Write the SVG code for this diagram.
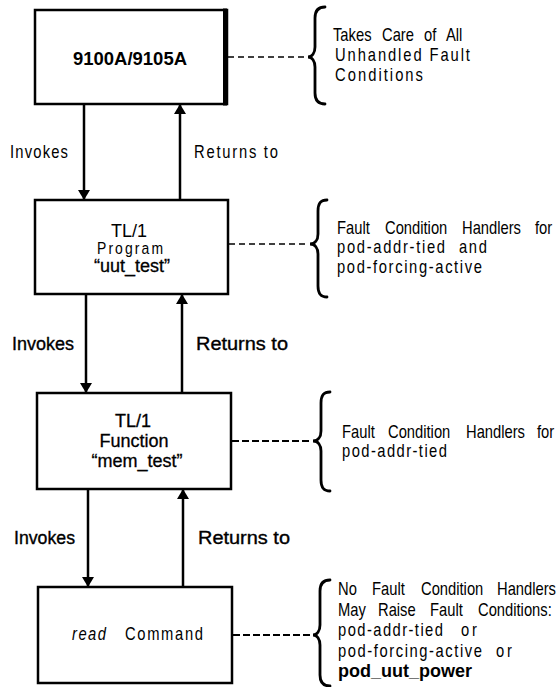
<svg xmlns="http://www.w3.org/2000/svg" width="560" height="687" viewBox="0 0 560 687">
<defs>
<marker id="ah" viewBox="0 0 10 12" refX="10" refY="6" markerWidth="10" markerHeight="12" markerUnits="userSpaceOnUse" orient="auto">
<path d="M0,0 L10,6 L0,12 Z" fill="#000"/>
</marker>
<style>
.box{fill:#fff;stroke:#000;stroke-width:2.5}
.t{font-family:"Liberation Sans",Arial,sans-serif;fill:#000}
.bt{font-size:18px;text-anchor:middle}
.an{font-size:18px}
.lb2{font-size:18px;stroke:#000;stroke-width:0.35}
.arr{stroke:#000;stroke-width:2.5;fill:none;marker-end:url(#ah)}
.brace{fill:none;stroke:#000;stroke-width:2.8;stroke-linecap:round}
.dash1{stroke:#000;stroke-width:1.3;stroke-dasharray:6 4}
.dash2{stroke:#000;stroke-width:2;stroke-dasharray:7 3}
</style>
</defs>

<g id="connectors">
<line class="arr" x1="84" y1="104" x2="84" y2="200"/>
<line class="arr" x1="180" y1="200" x2="180" y2="104"/>
<line class="arr" x1="86" y1="294" x2="86" y2="393"/>
<line class="arr" x1="182" y1="393" x2="182" y2="294"/>
<line class="arr" x1="88" y1="489" x2="88" y2="587"/>
<line class="arr" x1="183" y1="587" x2="183" y2="489"/>
<line class="dash1" x1="228" y1="57" x2="307" y2="57"/>
<line class="dash1" x1="229" y1="244" x2="309" y2="244"/>
<line class="dash2" x1="232" y1="441" x2="312" y2="441"/>
<line class="dash2" x1="233" y1="635" x2="312" y2="635"/>
<text class="t an" transform="matrix(0.82 0 0 1 10 158)" textLength="70.7" lengthAdjust="spacing">Invokes</text>
<text class="t an" transform="matrix(0.82 0 0 1 194 158)" textLength="102.4" lengthAdjust="spacing">Returns to</text>
<text class="t lb2" x="12" y="350" textLength="62" lengthAdjust="spacingAndGlyphs">Invokes</text>
<text class="t lb2" x="196" y="350" textLength="92" lengthAdjust="spacingAndGlyphs">Returns to</text>
<text class="t lb2" x="14" y="544" textLength="61" lengthAdjust="spacingAndGlyphs">Invokes</text>
<text class="t lb2" x="198" y="544" textLength="92" lengthAdjust="spacingAndGlyphs">Returns to</text>
</g>

<g id="n1">
<rect class="box" x="35" y="10" width="192" height="94"/>
<line x1="225" y1="8.5" x2="225" y2="105.5" stroke="#000" stroke-width="4"/>
<text class="t bt" x="130" y="65" font-weight="bold" textLength="114" lengthAdjust="spacingAndGlyphs">9100A/9105A</text>
</g>

<g id="n2">
<rect class="box" x="35" y="200" width="193" height="94"/>
<text class="t bt" x="129" y="237">TL/1</text>
<text class="t" transform="matrix(0.82 0 0 1 97 254)" font-size="17" textLength="80.5" lengthAdjust="spacing">Program</text>
<text class="t bt" x="132" y="272" stroke="#000" stroke-width="0.3">“uut_test”</text>
</g>

<g id="n3">
<rect class="box" x="37" y="393" width="194" height="96" stroke-width="3.5"/>
<text class="t bt" x="133" y="427" stroke="#000" stroke-width="0.3">TL/1</text>
<text class="t bt" x="134" y="447" stroke="#000" stroke-width="0.3">Function</text>
<text class="t bt" x="137" y="467" stroke="#000" stroke-width="0.3">“mem_test”</text>
</g>

<g id="n4">
<rect class="box" x="38" y="587" width="194" height="96" stroke-width="3.5"/>
<text class="t an" transform="matrix(0.82 0 0 1 72 640)" font-style="italic" textLength="41.5" lengthAdjust="spacing">read</text>
<text class="t an" transform="matrix(0.82 0 0 1 125 640)" textLength="95.1" lengthAdjust="spacing">Command</text>
</g>

<g id="a1">
<path class="brace" d="M325,7 C318,7 315,11 315,18 L315,47 C315,53 312,57 308,57 C312,57 315,61 315,67 L315,93 C315,100 318,104 325,104"/>
<text class="t an" transform="matrix(0.82 0 0 1 333 41)">Takes</text>
<text class="t an" transform="matrix(0.82 0 0 1 382 41)">Care</text>
<text class="t an" transform="matrix(0.82 0 0 1 424 41)">of</text>
<text class="t an" transform="matrix(0.82 0 0 1 446 41)">All</text>
<text class="t an" transform="matrix(0.82 0 0 1 335 61)" textLength="164.6" lengthAdjust="spacing">Unhandled Fault</text>
<text class="t an" transform="matrix(0.82 0 0 1 335 81)" textLength="107.3" lengthAdjust="spacing">Conditions</text>
</g>

<g id="a2">
<path class="brace" d="M327,200 C320,200 318,204 318,211 L318,234 C318,240 315,244 310,244 C315,244 318,248 318,254 L318,286 C318,293 320,297 327,297"/>
<text class="t an" transform="matrix(0.82 0 0 1 337 234)">Fault</text>
<text class="t an" transform="matrix(0.82 0 0 1 385 234)">Condition</text>
<text class="t an" transform="matrix(0.82 0 0 1 462 234)">Handlers</text>
<text class="t an" transform="matrix(0.82 0 0 1 535 234)">for</text>
<text class="t an" transform="matrix(0.82 0 0 1 337 253)" textLength="131.7" lengthAdjust="spacing">pod-addr-tied</text>
<text class="t an" transform="matrix(0.82 0 0 1 459 253)" textLength="34" lengthAdjust="spacing">and</text>
<text class="t an" transform="matrix(0.82 0 0 1 337 273)" textLength="176.8" lengthAdjust="spacing">pod-forcing-active</text>
</g>

<g id="a3">
<path class="brace" d="M330,392 C323,392 321,396 321,403 L321,431 C321,437 318,441 313,441 C318,441 321,445 321,451 L321,480 C321,487 323,491 330,491"/>
<text class="t an" transform="matrix(0.82 0 0 1 342 438)">Fault</text>
<text class="t an" transform="matrix(0.82 0 0 1 388 438)">Condition</text>
<text class="t an" transform="matrix(0.82 0 0 1 466 438)">Handlers</text>
<text class="t an" transform="matrix(0.82 0 0 1 537 438)">for</text>
<text class="t an" transform="matrix(0.82 0 0 1 342 457)" textLength="128" lengthAdjust="spacing">pod-addr-tied</text>
</g>

<g id="a4">
<path class="brace" d="M330,580 C323,580 320,584 320,591 L320,625 C320,631 317,635 313,635 C317,635 320,639 320,645 L320,675 C320,682 323,686 330,686"/>
<text class="t an" transform="matrix(0.82 0 0 1 338 595)">No</text>
<text class="t an" transform="matrix(0.82 0 0 1 372 595)">Fault</text>
<text class="t an" transform="matrix(0.82 0 0 1 421 595)">Condition</text>
<text class="t an" transform="matrix(0.82 0 0 1 497 595)">Handlers</text>
<text class="t an" transform="matrix(0.82 0 0 1 338 616)">May</text>
<text class="t an" transform="matrix(0.82 0 0 1 378 616)">Raise</text>
<text class="t an" transform="matrix(0.82 0 0 1 430 616)">Fault</text>
<text class="t an" transform="matrix(0.82 0 0 1 478 616)">Conditions:</text>
<text class="t an" transform="matrix(0.82 0 0 1 338 636)" textLength="128" lengthAdjust="spacing">pod-addr-tied</text>
<text class="t an" transform="matrix(0.82 0 0 1 461 636)" textLength="19.5" lengthAdjust="spacing">or</text>
<text class="t an" transform="matrix(0.82 0 0 1 338 657)" textLength="175.6" lengthAdjust="spacing">pod-forcing-active</text>
<text class="t an" transform="matrix(0.82 0 0 1 496 657)" textLength="19.5" lengthAdjust="spacing">or</text>
<text class="t an" x="338" y="677" font-weight="bold">pod_uut_power</text>
</g>
</svg>
